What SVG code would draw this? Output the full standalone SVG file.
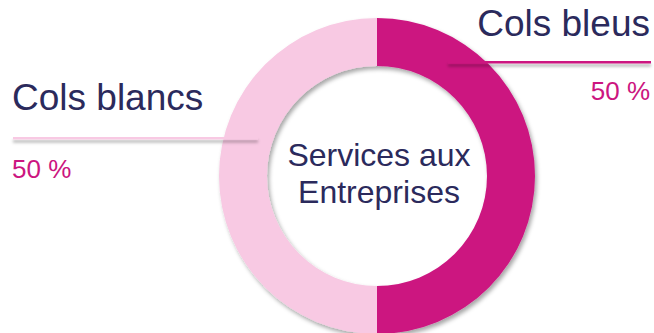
<svg xmlns="http://www.w3.org/2000/svg" width="654" height="333" viewBox="0 0 654 333">
<defs>
<filter id="sh" x="-20%" y="-20%" width="140%" height="140%">
<feDropShadow dx="2" dy="3" stdDeviation="2" flood-color="#000" flood-opacity="0.35"/>
</filter>
<filter id="lsh" filterUnits="userSpaceOnUse" x="0" y="0" width="654" height="333">
<feDropShadow dx="0" dy="3" stdDeviation="1.5" flood-color="#000" flood-opacity="0.3"/>
</filter>
</defs>
<style>
.lbl{font-family:"Liberation Sans",Arial,sans-serif;fill:#2b2a5c}
.pct{font-family:"Liberation Sans",Arial,sans-serif;fill:#cc1580;font-size:26px}
</style>
<rect width="654" height="333" fill="#fff"/>
<g id="donut" filter="url(#sh)">
<path d="M377,18 A158,158 0 0 1 377,334 L377,286 A110,110 0 0 0 377,66 Z" fill="#cc1580"/>
<path d="M377,18 A158,158 0 0 0 377,334 L377,286 A110,110 0 0 1 377,66 Z" fill="#f8c9e3"/>
</g>
<g id="connectors">
<rect x="448" y="61" width="203" height="2.5" fill="#cc1580" filter="url(#lsh)"/>
<rect x="13" y="137" width="245" height="2.5" fill="#f8c9e3" filter="url(#lsh)"/>
</g>
<g id="center">
<text class="lbl" x="379" y="166" font-size="32" text-anchor="middle">Services aux</text>
<text class="lbl" x="379" y="203" font-size="32" text-anchor="middle">Entreprises</text>
</g>
<g id="cols-bleus">
<text class="lbl" x="650" y="36" font-size="37" text-anchor="end">Cols bleus</text>
<text class="pct" x="650" y="100" text-anchor="end">50 %</text>
</g>
<g id="cols-blancs">
<text class="lbl" x="12" y="110" font-size="37">Cols blancs</text>
<text class="pct" x="12" y="178">50 %</text>
</g>
</svg>
